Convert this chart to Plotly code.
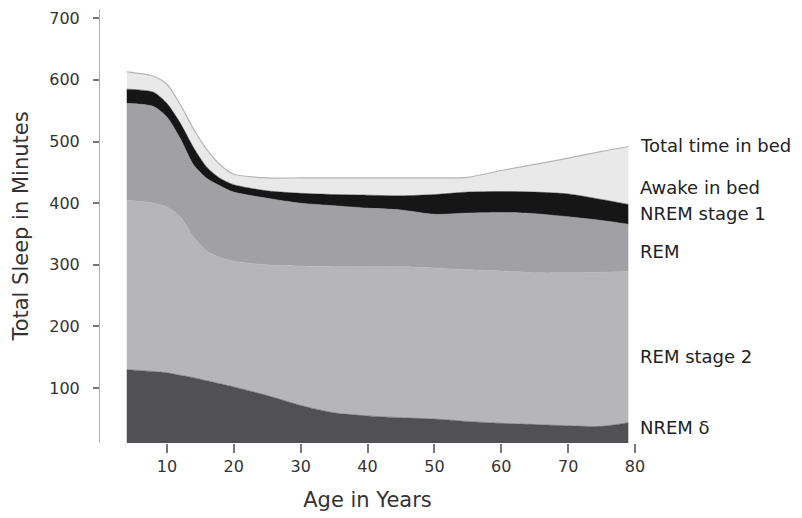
import plotly.graph_objects as go

# Age in years
ages = [4, 8, 10, 12, 14, 16, 18, 20, 25, 30, 35, 40, 45, 50, 55, 60, 65, 70, 75, 79]

# Minutes per stage (stacked from the bottom up)
nrem_delta = [130, 127, 125, 121, 117, 112, 107, 102, 88, 72, 60, 55, 52, 50, 46, 43, 41, 39, 38, 44]
stage_2 = [275, 273, 269, 257, 228, 210, 205, 204, 212, 226, 237, 242, 245, 245, 246, 247, 246, 248, 250, 245]
rem = [157, 157, 146, 127, 117, 118, 116, 112, 108, 102, 99, 95, 92, 87, 92, 95, 96, 91, 84, 77]
nrem_stage_1 = [23, 23, 22, 25, 28, 18, 12, 12, 12, 16, 18, 21, 23, 32, 34, 34, 35, 37, 34, 32]
awake_in_bed = [28, 26, 31, 30, 30, 29, 22, 17, 21, 25, 27, 28, 29, 27, 24, 34, 45, 58, 78, 94]

series_names = ["NREM δ", "REM stage 2", "REM", "NREM stage 1", "Awake in bed"]
series_values = [nrem_delta, stage_2, rem, nrem_stage_1, awake_in_bed]
series_colors = ["#505055", "#b6b6b9", "#a1a1a5", "#161616", "#e9e9e9"]

# Right-hand labels (text, value on the y axis where the label sits)
label_texts = ["Total time in bed", "Awake in bed", "NREM stage 1", "REM", "REM stage 2", "NREM δ"]
label_values = [493, 426, 384, 321, 151, 36]

x_ticks = [10, 20, 30, 40, 50, 60, 70, 80]
y_ticks = [100, 200, 300, 400, 500, 600, 700]

FONT = "DejaVu Sans"

fig = go.Figure()
for name, vals, col in zip(series_names, series_values, series_colors):
    is_top = name == "Awake in bed"
    fig.add_trace(go.Scatter(
        x=ages, y=vals, name=name, mode="lines",
        stackgroup="sleep",
        line=dict(color="#b5b5b5" if is_top else col, width=1.2 if is_top else 0.5,
                  shape="spline", smoothing=0.7),
        fillcolor=col,
        showlegend=False,
    ))

for txt, val in zip(label_texts, label_values):
    fig.add_annotation(
        x=1.005, xref="paper", y=val, yref="y",
        text=txt, showarrow=False, xanchor="left", yanchor="middle",
        font=dict(family=FONT, size=18, color="#222222"),
    )

fig.update_layout(
    width=802, height=518,
    margin=dict(l=100, r=167, t=9, b=75, autoexpand=False),
    paper_bgcolor="white", plot_bgcolor="white",
    font=dict(family=FONT, color="#333333"),
    showlegend=False,
)
fig.update_xaxes(
    range=[0, 80], tickvals=x_ticks, ticktext=[str(v) for v in x_ticks],
    automargin=False,
    showgrid=False, zeroline=False, showline=False,
    ticks="outside", ticklen=9, tickcolor="#777777", tickwidth=1.5,
    tickfont=dict(family=FONT, size=16, color="#333333"),
    title=dict(text="Age in Years", font=dict(family=FONT, size=21, color="#333333"), standoff=17),
)
fig.update_yaxes(
    range=[11, 715], tickvals=y_ticks, ticktext=[str(v) for v in y_ticks],
    automargin=False,
    showgrid=False, zeroline=False, showline=True, linecolor="#b0b0b0", linewidth=1,
    ticks="outside", ticklen=6, tickcolor="#777777", tickwidth=1.5,
    ticklabelstandoff=10,
    tickfont=dict(family=FONT, size=16, color="#333333"),
    title=dict(text="Total Sleep in Minutes", font=dict(family=FONT, size=21, color="#333333"), standoff=14),
)

fig.write_html(
    "out.html",
    config={"displayModeBar": False},
    post_script="document.body.style.margin='0';document.body.style.padding='0';",
)
